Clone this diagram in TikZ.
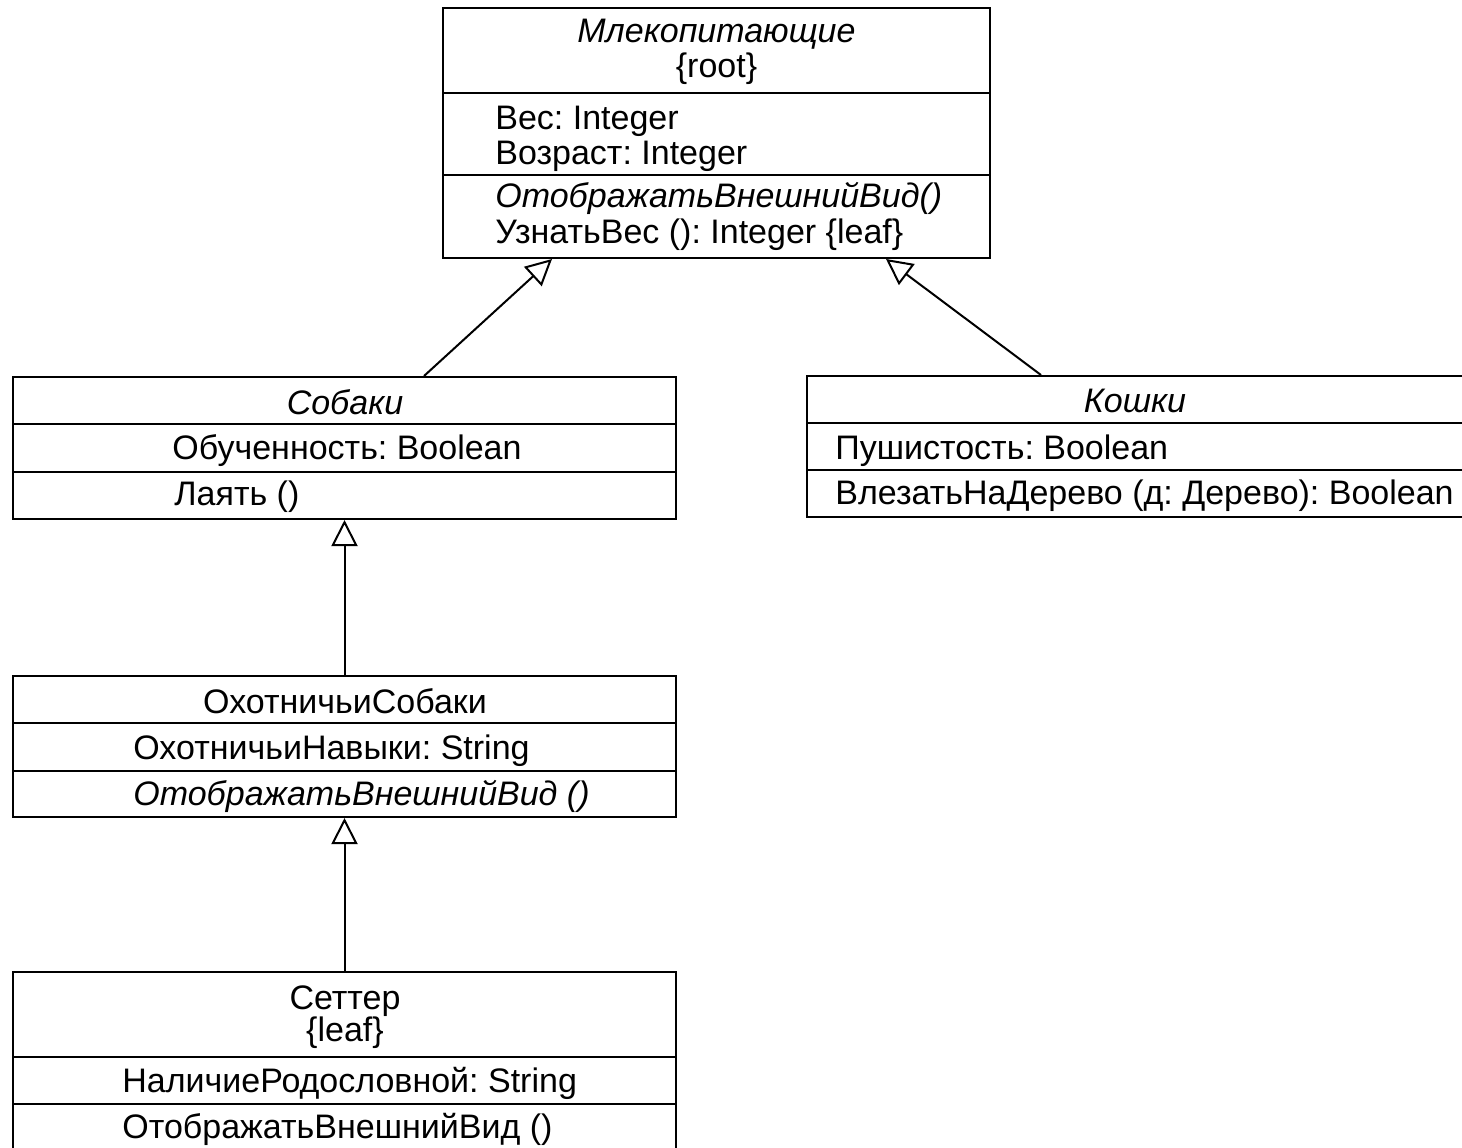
\documentclass[tikz,border=0pt]{standalone}
\usepackage{fontspec}
\setmainfont{Liberation Sans}
\usetikzlibrary{arrows.meta,calc}
\frenchspacing
\begin{document}
\begin{tikzpicture}[x=0.5pt,y=-0.5pt,
  box/.style={draw, line width=1pt, rectangle, inner sep=0pt},
  divider/.style={line width=1pt},
  txt/.style={inner sep=0pt, font=\fontsize{17}{20}\selectfont\frenchspacing},
  itxt/.style={txt, font=\fontsize{17}{20}\selectfont\frenchspacing\itshape},
  inh/.style={line width=1pt, -{Triangle[open,length=13pt,width=13pt,line width=1pt]}}]
\fill[white] (0,0) rectangle (1462,1147);
\useasboundingbox (0,0) rectangle (1462,1147);

% boxes
\node[box, minimum width=273.5pt, minimum height=125pt] (mam) at (716.5,133) {};
\node[box, minimum width=331.5pt, minimum height=71pt] (dog) at (344.5,448) {};
\node[box, minimum width=329.5pt, minimum height=70.5pt] (cat) at (1136.5,446.5) {};
\node[box, minimum width=331.5pt, minimum height=70.5pt] (hunt) at (344.5,746.5) {};
\node[box, minimum width=331.5pt, minimum height=90pt] (set) at (344.5,1062) {};

% dividers
\draw[divider] (443,93) -- (990,93);
\draw[divider] (443,175) -- (990,175);
\draw[divider] (13,424) -- (676,424);
\draw[divider] (13,472) -- (676,472);
\draw[divider] (807,423) -- (1466,423);
\draw[divider] (807,470) -- (1466,470);
\draw[divider] (13,723) -- (676,723);
\draw[divider] (13,771) -- (676,771);
\draw[divider] (13,1057) -- (676,1057);
\draw[divider] (13,1104) -- (676,1104);

% Млекопитающие
\node[itxt, anchor=base] (m1) at (716.5,42) {Млекопитающие};
\node[txt, anchor=base] (m2) at (716.5,77) {\{root\}};
\node[txt, anchor=base west] (m3) at (495,129) {Вес: Integer};
\node[txt, anchor=base west] (m4) at (495,164) {Возраст: Integer};
\node[itxt, anchor=base west] (m5) at (495,207) {ОтображатьВнешнийВид()};
\node[txt, anchor=base west] (m6) at (495,243) {УзнатьВес (): Integer \{leaf\}};

% Собаки
\node[itxt, anchor=base] (d1) at (345,414) {Собаки};
\node[txt, anchor=base west] (d2) at (172,459) {Обученность: Boolean};
\node[txt, anchor=base west] (d3) at (174,505) {Лаять ()};

% Кошки
\node[itxt, anchor=base] (c1) at (1135,412) {Кошки};
\node[txt, anchor=base west] (c2) at (835,459) {Пушистость: Boolean};
\node[txt, anchor=base west] (c3) at (835,504) {ВлезатьНаДерево (д: Дерево): Boolean};

% ОхотничьиСобаки
\node[txt, anchor=base] (h1) at (345,713) {ОхотничьиСобаки};
\node[txt, anchor=base west] (h2) at (133,759) {ОхотничьиНавыки: String};
\node[itxt, anchor=base west] (h3) at (133,805) {ОтображатьВнешнийВид ()};

% Сеттер
\node[txt, anchor=base] (s1) at (345,1009) {Сеттер};
\node[txt, anchor=base] (s2) at (345,1041) {\{leaf\}};
\node[txt, anchor=base west] (s3) at (122,1092) {НаличиеРодословной: String};
\node[txt, anchor=base west] (s4) at (122,1138) {ОтображатьВнешнийВид ()};

% connectors
\coordinate (dogtop) at ($(dog.north west)+(412,0)$);
\coordinate (mamL) at ($(mam.south west)+(110,0)$);
\coordinate (cattop) at ($(cat.north west)+(235,0)$);
\coordinate (mamR) at ($(mam.south west)+(444,0)$);
\draw[inh] (dogtop) -- (mamL);
\draw[inh] (cattop) -- (mamR);
\draw[inh] (hunt.north) -- (dog.south);
\draw[inh] (set.north) -- (hunt.south);
\end{tikzpicture}
\end{document}
